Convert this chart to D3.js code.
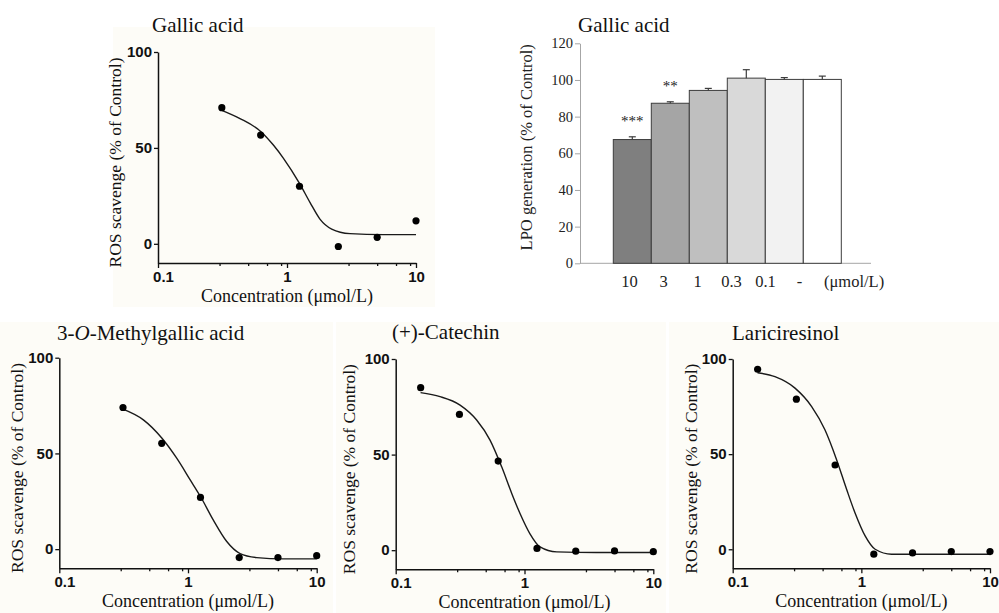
<!DOCTYPE html>
<html>
<head>
<meta charset="utf-8">
<script src="https://cdn.jsdelivr.net/npm/d3@7"></script>
<style>
html,body{margin:0;padding:0;background:#fff;}
svg{display:block;}
</style>
</head>
<body>
<svg id="chart" width="999" height="613"></svg>
<script>
// ---------- DATA ----------
// Dose-response (ROS scavenging) measured points
const concSix = [0.3125, 0.625, 1.25, 2.5, 5, 10];
const concSeven = [0.15625, 0.3125, 0.625, 1.25, 2.5, 5, 10];
const gallicRos = [71, 56.7, 30, -1.4, 3.4, 12];
const methylRos = [74, 55.3, 27, -4.4, -4.4, -3.4];
const catechinRos = [85, 71, 46.6, 0.9, -0.5, -0.4, -0.8];
const laricRos = [94.6, 78.9, 44.3, -2.6, -1.9, -1.2, -1.2];

// Fitted curves
const gallicFitX = [0.3125, 0.432, 0.625, 0.784, 0.936, 1.25, 1.51, 1.8, 2.22, 3.08, 5.58, 10];
const gallicFitY = [69.6, 65.3, 58.6, 51.5, 44.7, 31.5, 21.5, 12.9, 7.7, 5.3, 4.8, 4.8];
const methylFitX = [0.3125, 0.45, 0.628, 0.817, 1.04, 1.26, 1.57, 2.0, 2.54, 3.42, 5.5, 10];
const methylFitY = [73.1, 67.5, 57.9, 47.5, 36.2, 27.1, 15.3, 4.0, -2.3, -4.4, -5.1, -5.1];
const catechinFitX = [0.156, 0.221, 0.316, 0.425, 0.54, 0.665, 0.796, 0.923, 1.10, 1.32, 1.78, 3.6, 10];
const catechinFitY = [82.4, 80.3, 75.9, 68.1, 57.6, 43.6, 29.7, 19.2, 8.7, 1.7, -0.9, -1.2, -1.2];
const laricFitX = [0.156, 0.213, 0.305, 0.411, 0.521, 0.642, 0.769, 0.892, 1.07, 1.28, 1.72, 3.5, 10];
const laricFitY = [92.8, 90.7, 84.7, 75, 62.8, 47.1, 31.4, 19.2, 7, 0, -2.6, -2.6, -2.6];

const rosYTicks = [0, 50, 100];
const rosXTicks = [0.1, 1, 10];
const minorMultipliers = [3, 5, 7, 9];

// LPO bar chart
const barCategories = ["10", "3", "1", "0.3", "0.1", "-"];
const barUnitLabel = "(\u03bcmol/L)";
const barValues = [67.5, 87.3, 94.3, 101, 100.3, 100.3];
const barErrors = [1.5, 0.8, 1.1, 4.6, 1.0, 1.8];
const barStars = ["***", "**", "", "", "", ""];
const barYTicks = [0, 20, 40, 60, 80, 100, 120];

// ---------- STYLE ----------
const barFills = ["#7f7f7f", "#a5a5a5", "#bfbfbf", "#d9d9d9", "#f2f2f2", "#ffffff"];
const serif = "'Liberation Serif', 'Times New Roman', serif";
const sans = "'Liberation Sans', Arial, sans-serif";
const cream = "#fdfcf7";

const svg = d3.select("#chart");

// ---------- DOSE-RESPONSE PANELS ----------
const panels = [
  {title: [{t: "Gallic acid"}], x0: 158, x1: 416, yTop: 52, yBot: 263,
   px: concSix, py: gallicRos, fx: gallicFitX, fy: gallicFitY,
   tx: 152, ty: 32, lblX: -37, bg: [113, 27, 322, 280]},
  {title: [{t: "3-"}, {t: "O", i: true}, {t: "-Methylgallic acid"}], x0: 59.3, x1: 316.7, yTop: 357.7, yBot: 568.3,
   px: concSix, py: methylRos, fx: methylFitX, fy: methylFitY,
   tx: 57, ty: 340, lblX: -36, bg: [0, 322, 333, 291]},
  {title: [{t: "(+)-Catechin"}], x0: 395.7, x1: 653.3, yTop: 359, yBot: 569.3,
   px: concSeven, py: catechinRos, fx: catechinFitX, fy: catechinFitY,
   tx: 392, ty: 339, lblX: -41, bg: [336, 322, 330, 291]},
  {title: [{t: "Lariciresinol"}], x0: 732.7, x1: 990, yTop: 359, yBot: 568.3,
   px: concSeven, py: laricRos, fx: laricFitX, fy: laricFitY,
   tx: 732, ty: 340, lblX: -36, bg: [669, 322, 330, 291]}
];

panels.forEach(p => {
  const g = svg.append("g");
  g.append("rect").attr("x", p.bg[0]).attr("y", p.bg[1]).attr("width", p.bg[2]).attr("height", p.bg[3]).attr("fill", cream);

  const x = d3.scaleLog().domain([0.1, 10]).range([p.x0, p.x1]);
  const y = d3.scaleLinear().domain([-10, 100]).range([p.yBot, p.yTop]);

  // y axis
  const ya = g.append("g").attr("transform", `translate(${p.x0},0)`)
    .call(d3.axisLeft(y).tickValues(rosYTicks).tickFormat(d3.format("d")).tickSize(4).tickSizeOuter(0).tickPadding(2));
  // x axis major
  const xa = g.append("g").attr("transform", `translate(0,${p.yBot})`)
    .call(d3.axisBottom(x).tickValues(rosXTicks).tickFormat(d => String(d)).tickSize(5).tickSizeOuter(0).tickPadding(3));
  xa.selectAll(".tick text").filter(d => d === 0.1).attr("dx", 5);
  // minor ticks
  const minors = [];
  [0.1, 1].forEach(dec => minorMultipliers.forEach(m => minors.push(dec * m)));
  g.append("g").attr("transform", `translate(0,${p.yBot})`)
    .call(d3.axisBottom(x).tickValues(minors).tickFormat("").tickSize(3).tickSizeOuter(0))
    .call(s => s.select(".domain").remove());

  [ya, xa].forEach(a => {
    a.select(".domain").attr("stroke", "#111").attr("stroke-width", 1.5);
    a.selectAll(".tick text").attr("font-family", sans).attr("font-size", 15).attr("fill", "#111").attr("font-weight", "bold");
  });
  g.selectAll(".tick line").attr("stroke", "#111").attr("stroke-width", 1.3);

  // fitted curve
  const line = d3.line().x(d => x(d[0])).y(d => y(d[1])).curve(d3.curveMonotoneX);
  g.append("path").datum(p.fx.map((v, i) => [v, p.fy[i]]))
    .attr("d", line).attr("fill", "none").attr("stroke", "#1a1a1a").attr("stroke-width", 1.4);

  // points
  g.selectAll("circle.pt").data(p.px.map((v, i) => [v, p.py[i]])).join("circle")
    .attr("class", "pt").attr("cx", d => x(d[0])).attr("cy", d => y(d[1])).attr("r", 3.6).attr("fill", "#000");

  // title
  const t = g.append("text").attr("x", p.tx).attr("y", p.ty).attr("font-family", serif).attr("font-size", 21).attr("fill", "#111");
  p.title.forEach(s => t.append("tspan").text(s.t).attr("font-style", s.i ? "italic" : "normal"));

  // axis labels
  g.append("text").attr("transform", `translate(${p.x0 + p.lblX},${(p.yTop + p.yBot) / 2 + 5}) rotate(-90)`)
    .attr("text-anchor", "middle").attr("font-family", serif).attr("font-size", 17.5).attr("fill", "#111")
    .text("ROS scavenge (% of Control)");
  g.append("text").attr("x", (p.x0 + p.x1) / 2).attr("y", p.yBot + 39)
    .attr("text-anchor", "middle").attr("font-family", serif).attr("font-size", 18).attr("fill", "#111")
    .text("Concentration (\u03bcmol/L)");
});

// ---------- BAR CHART ----------
(function () {
  const axisX = 580, xEnd = 871, yTop = 43.3, yBot = 263.3;
  const g = svg.append("g");
  const x = d3.scaleBand().domain(barCategories).range([613.3, 841.3]).padding(0);
  const xLab = d3.scalePoint().domain(barCategories).range([629, 799]);
  const y = d3.scaleLinear().domain([0, 120]).range([yBot, yTop]);

  // y axis
  const ya = g.append("g").attr("transform", `translate(${axisX},0)`)
    .call(d3.axisLeft(y).tickValues(barYTicks).tickSize(5).tickSizeOuter(0).tickPadding(2));
  ya.select(".domain").attr("stroke", "#a6a6a6").attr("stroke-width", 1);
  ya.selectAll(".tick line").attr("stroke", "#a6a6a6");
  ya.selectAll(".tick text").attr("font-family", serif).attr("font-size", 14.5).attr("fill", "#222");

  // x axis baseline
  g.append("line").attr("x1", axisX).attr("x2", xEnd).attr("y1", yBot).attr("y2", yBot)
    .attr("stroke", "#a6a6a6").attr("stroke-width", 1);
  const xa = g.append("g").attr("transform", `translate(0,${yBot})`)
    .call(d3.axisBottom(xLab).tickSize(0).tickPadding(12));
  xa.select(".domain").remove();
  xa.selectAll(".tick text").attr("font-family", serif).attr("font-size", 16.5).attr("fill", "#222");
  g.append("text").attr("x", xLab(barCategories[barCategories.length - 1]) + 25).attr("y", yBot + 24)
    .attr("font-family", serif).attr("font-size", 16.5).attr("fill", "#222").text(barUnitLabel);

  // bars
  g.selectAll("rect.bar").data(barCategories).join("rect")
    .attr("class", "bar")
    .attr("x", d => x(d)).attr("width", x.bandwidth())
    .attr("y", (d, i) => y(barValues[i])).attr("height", (d, i) => yBot - y(barValues[i]))
    .attr("fill", (d, i) => barFills[i]).attr("stroke", "#3c3c3c").attr("stroke-width", 1);

  // error bars (upper only)
  barCategories.forEach((c, i) => {
    const cx = x(c) + x.bandwidth() / 2;
    g.append("line").attr("x1", cx).attr("x2", cx).attr("y1", y(barValues[i])).attr("y2", y(barValues[i] + barErrors[i]))
      .attr("stroke", "#3c3c3c").attr("stroke-width", 1.2);
    g.append("line").attr("x1", cx - 3.5).attr("x2", cx + 3.5).attr("y1", y(barValues[i] + barErrors[i])).attr("y2", y(barValues[i] + barErrors[i]))
      .attr("stroke", "#3c3c3c").attr("stroke-width", 1.2);
    if (barStars[i]) {
      g.append("text").attr("x", cx).attr("y", y(barValues[i] + barErrors[i]) - 11)
        .attr("text-anchor", "middle").attr("font-family", serif).attr("font-size", 15).attr("fill", "#222")
        .text(barStars[i]);
    }
  });

  // labels
  g.append("text").attr("x", 578).attr("y", 32).attr("font-family", serif).attr("font-size", 21).attr("fill", "#111").text("Gallic acid");
  g.append("text").attr("transform", `translate(532,${(yTop + yBot) / 2 - 6}) rotate(-90)`)
    .attr("text-anchor", "middle").attr("font-family", serif).attr("font-size", 16.5).attr("fill", "#222")
    .text("LPO generation (% of Control)");
})();
</script>
</body>
</html>
